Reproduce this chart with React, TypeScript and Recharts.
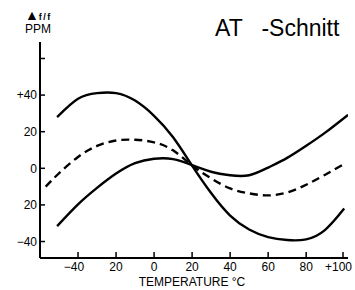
import { LineChart, Line, XAxis, YAxis, Label } from "recharts";

// temperature (°C) and frequency deviation (ppm)
const upperTemps = [-51, -40, -30, -20, -10, 0, 10, 20, 30, 40, 50, 60, 70, 80, 90, 100];
const upperPpm = [28, 38, 41.1, 41.1, 37, 28.7, 17, 1.5, -13.5, -25.8, -33.4, -37.6, -39.2, -38.8, -33.6, -22];

const middleTemps = [-57, -50, -40, -30, -20, -10, 0, 10, 20, 30, 40, 50, 60, 70, 80, 90, 101];
const middlePpm = [-10, -2.7, 6.2, 12.2, 15.2, 15.6, 14.2, 9.8, 1.5, -5.5, -11, -13.7, -14.8, -13.2, -9, -3.5, 3];

const lowerTemps = [-51, -40, -30, -20, -10, 0, 10, 20, 30, 40, 50, 60, 70, 80, 90, 102];
const lowerPpm = [-31.6, -19.7, -10.7, -2.9, 2.8, 5.2, 5, 1.7, -1.9, -3.8, -3.8, 0.4, 5.7, 12.3, 19.5, 29.2];

const xTicks = [-40, -20, 0, 20, 40, 60, 80, 100];
const xTickLabels = ["−40", "20", "0", "20", "40", "60", "80", "+100"];

const yTicks = [-40, -20, 0, 20, 40, 60];
const yTickLabels = ["−40", "20", "0", "20", "+40", ""];

const toRows = (temps: number[], ppm: number[]) =>
  temps.map((t, i) => ({ t, v: ppm[i] }));

const FONT = "'Liberation Sans', Arial, sans-serif";

function XTick(props: any) {
  const { x, y, payload, index } = props;
  const label = xTickLabels[index] ?? String(payload.value);
  const last = index === xTicks.length - 1;
  const signed = label.startsWith("−");
  return (
    <g>
      <line x1={x} y1={y} x2={x} y2={y - 6} stroke="#000" strokeWidth={1.5} />
      <text
        x={last ? 352 : signed ? x - 4 : x}
        y={y + 12.5}
        textAnchor={last ? "end" : "middle"}
        fontSize={12}
        fontFamily={FONT}
        fill="#000"
      >
        {label}
      </text>
    </g>
  );
}

function YTick(props: any) {
  const { x, y, index } = props;
  const label = yTickLabels[index] ?? "";
  return (
    <g>
      <line x1={x} y1={y} x2={x + 5} y2={y} stroke="#000" strokeWidth={1.5} />
      <text
        x={x - 3}
        y={y}
        dy="0.36em"
        textAnchor="end"
        fontSize={12}
        fontFamily={FONT}
        fill="#000"
      >
        {label}
      </text>
    </g>
  );
}

export default function App() {
  return (
    <div style={{ position: "absolute", left: 0, top: 0, width: 355, height: 290, background: "#fff" }}>
      <LineChart
        width={355}
        height={290}
        margin={{ top: 42, right: 7, bottom: 0, left: 0 }}
      >
        <XAxis
          type="number"
          dataKey="t"
          domain={[-60, 102]}
          ticks={xTicks}
          allowDataOverflow
          height={32}
          tickSize={0}
          tickMargin={0}
          tick={<XTick />}
          axisLine={{ stroke: "#000", strokeWidth: 2 }}
        >
          <Label
            value="TEMPERATURE °C"
            position="insideBottom"
            offset={4}
            dx={-2}
            style={{ fontSize: 12, fontFamily: FONT, fill: "#000" }}
          />
        </XAxis>
        <YAxis
          type="number"
          dataKey="v"
          domain={[-49, 69]}
          ticks={yTicks}
          allowDataOverflow
          width={40}
          tickSize={0}
          tickMargin={0}
          tick={<YTick />}
          axisLine={{ stroke: "#000", strokeWidth: 2 }}
        />
        <Line
          data={toRows(upperTemps, upperPpm)}
          dataKey="v"
          type="natural"
          stroke="#000"
          strokeWidth={2.4}
          dot={false}
          isAnimationActive={false}
        />
        <Line
          data={toRows(middleTemps, middlePpm)}
          dataKey="v"
          type="natural"
          stroke="#000"
          strokeWidth={2.4}
          strokeDasharray="8 5"
          dot={false}
          isAnimationActive={false}
        />
        <Line
          data={toRows(lowerTemps, lowerPpm)}
          dataKey="v"
          type="natural"
          stroke="#000"
          strokeWidth={2.4}
          dot={false}
          isAnimationActive={false}
        />
        <text x={25} y={20} fontFamily={FONT} fontWeight="bold" fill="#000">
          <tspan fontSize={14}>▲</tspan>
          <tspan fontSize={9} letterSpacing={1.5}>f/f</tspan>
        </text>
        <text x={25} y={33} fontSize={12} fontFamily={FONT} fill="#000">
          PPM
        </text>
        <text y={36} fontSize={23} fontFamily={FONT} fill="#000">
          <tspan x={215}>AT</tspan>
          <tspan x={255} style={{ whiteSpace: "pre" }}> -Schnitt</tspan>
        </text>
      </LineChart>
    </div>
  );
}
